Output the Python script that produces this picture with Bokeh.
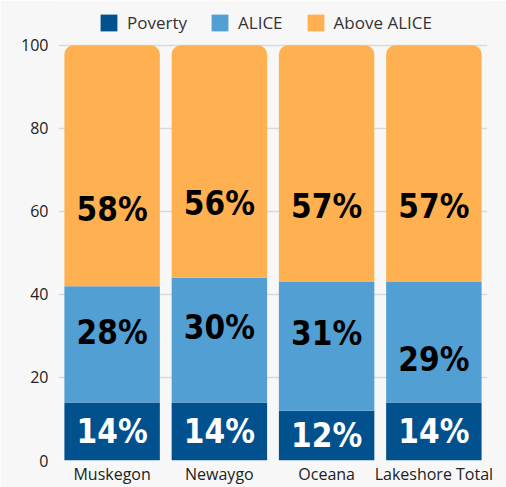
from bokeh.plotting import figure
from bokeh.models import ColumnDataSource, Legend, LegendItem
from bokeh.core.properties import value
from bokeh.embed import file_html
from bokeh.resources import INLINE

categories = ["Muskegon", "Newaygo", "Oceana", "Lakeshore Total"]
poverty = [14, 14, 12, 14]
alice = [28, 30, 31, 29]
above = [58, 56, 57, 57]
series_names = ["Poverty", "ALICE", "Above ALICE"]
colors = ["#02518f", "#519fd3", "#ffb152"]
alice_label_nudge = [0, 0, 0, -7]

BG = "#f7f7f7"
p = figure(x_range=categories, y_range=(0, 110.8), width=506, height=487,
           output_backend="svg", toolbar_location=None,
           background_fill_color=BG, border_fill_color=BG,
           min_border_left=58, min_border_right=19, min_border_top=0, min_border_bottom=26)
p.outline_line_color = None
p.x_range.range_padding = 0

src = ColumnDataSource(dict(cat=categories, Poverty=poverty, ALICE=alice, Above=above))
rs = p.vbar_stack(["Poverty", "ALICE", "Above"], x="cat", width=0.89, color=colors,
                  line_color=None, source=src)
rs[2].glyph.border_radius = (9, 9, 0, 0)

# labels
lab_font = value("DejaVu Sans Condensed, Roboto Condensed, Liberation Sans Narrow, Roboto")
pov_y = [v / 2 for v in poverty]
al_y = [pv + 0.6 * a + n for pv, a, n in zip(poverty, alice, alice_label_nudge)]
ab_y = [pv + a + 0.32 * b for pv, a, b in zip(poverty, alice, above)]
lsrc = ColumnDataSource(dict(
    cat=categories,
    pov_y=pov_y, al_y=al_y, ab_y=ab_y,
    pov_t=[f"{v}%" for v in poverty],
    al_t=[f"{v}%" for v in alice],
    ab_t=[f"{v}%" for v in above],
))
common = dict(source=lsrc, text_align="center", text_baseline="middle",
              text_font=lab_font, text_font_style="bold", text_font_size="33px")
p.text(x="cat", y="pov_y", text="pov_t", text_color="white", **common)
p.text(x="cat", y="al_y", text="al_t", text_color="black", **common)
p.text(x="cat", y="ab_y", text="ab_t", text_color="black", **common)

# axes
p.yaxis.ticker = [0, 20, 40, 60, 80, 100]
for ax in (p.xaxis[0], p.yaxis[0]):
    ax.axis_line_color = None
    ax.major_tick_line_color = None
    ax.minor_tick_line_color = None
    ax.major_tick_out = 0
    ax.major_tick_in = 0
    ax.minor_tick_out = 0
    ax.major_label_text_font = "Open Sans"
    ax.major_label_text_font_size = "16px"
    ax.major_label_text_color = "#222222"
p.xaxis.major_label_standoff = 2
p.yaxis.major_label_standoff = 10
p.xgrid.grid_line_color = None
p.ygrid.grid_line_color = "#d9d9d9"
p.ygrid.grid_line_width = 1.5

legend = Legend(items=[LegendItem(label=n, renderers=[r]) for n, r in zip(series_names, rs)],
                orientation="horizontal", location=(40, 426),
                background_fill_alpha=0, border_line_color=None,
                label_text_font="Open Sans", label_text_font_size="17px",
                label_text_color="#333333", glyph_width=21, glyph_height=21,
                label_standoff=8, spacing=22, padding=4, margin=0)
p.add_layout(legend, "center")

open("out.html", "w").write(file_html(p, INLINE))
